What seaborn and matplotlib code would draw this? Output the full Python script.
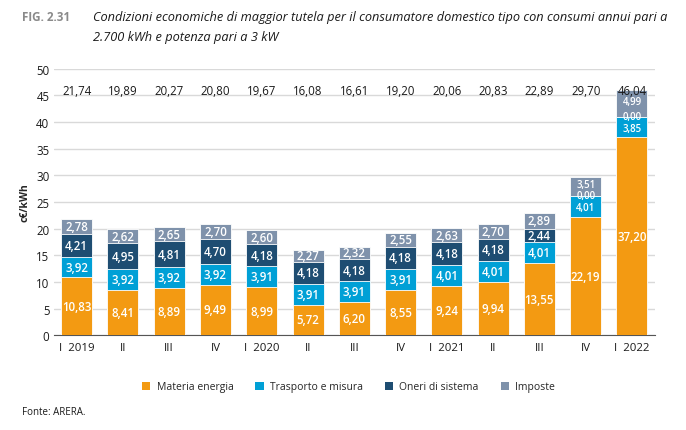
import numpy as np
import pandas as pd
import matplotlib.pyplot as plt
import seaborn as sns
from matplotlib.patches import Patch

# Data (c€/kWh)
quarters = ["I  2019", "II", "III", "IV", "I  2020", "II", "III", "IV",
            "I  2021", "II", "III", "IV", "I  2022"]
materia = [10.83, 8.41, 8.89, 9.49, 8.99, 5.72, 6.20, 8.55, 9.24, 9.94, 13.55, 22.19, 37.20]
trasporto = [3.92, 3.92, 3.92, 3.92, 3.91, 3.91, 3.91, 3.91, 4.01, 4.01, 4.01, 4.01, 3.85]
oneri = [4.21, 4.95, 4.81, 4.70, 4.18, 4.18, 4.18, 4.18, 4.18, 4.18, 2.44, 0.00, 0.00]
imposte = [2.78, 2.62, 2.65, 2.70, 2.60, 2.27, 2.32, 2.55, 2.63, 2.70, 2.89, 3.51, 4.99]
totali = [21.74, 19.89, 20.27, 20.80, 19.67, 16.08, 16.61, 19.20, 20.06, 20.83, 22.89, 29.70, 46.04]

series_names = ["Materia energia", "Trasporto e misura", "Oneri di sistema", "Imposte"]
colors = ["#F39A12", "#00A0D6", "#1E4D72", "#7F92AB"]

sns.set_style("white")
plt.rcParams["font.family"] = ["Open Sans", "DejaVu Sans"]


def fmt(v):
    return f"{v:.2f}".replace(".", ",")


df = pd.DataFrame({"pos": np.arange(len(quarters)),
                   "materia": materia, "trasporto": trasporto,
                   "oneri": oneri, "imposte": imposte})
layers = ["materia", "trasporto", "oneri", "imposte"]
cum = df[layers].cumsum(axis=1)

fig = plt.figure(figsize=(6.86, 4.31), dpi=100)
ax = fig.add_axes([0.078, 0.22, 0.877, 0.618])

# draw cumulative bars from the top layer down so they stack
for k in range(len(layers) - 1, -1, -1):
    sns.barplot(x=df["pos"], y=cum[layers[k]], color=colors[k], saturation=1,
                width=0.67, edgecolor="white", linewidth=0.6, ax=ax, zorder=3)

# segment labels (a bit smaller where a zero segment squeezes them together)
for i in range(len(quarters)):
    bottom = 0
    tight = df.loc[i, "oneri"] == 0
    for k, name in enumerate(layers):
        h = df.loc[i, name]
        y = bottom + h / 2
        fs = 8.3
        if tight and k > 0:
            fs = 7.0
            if k == 1:
                y -= 0.25
            elif k == 3:
                y += 0.25
        ax.text(i, y, fmt(h), ha="center", va="center",
                color="white", fontsize=fs, fontweight="semibold", zorder=5)
        bottom += h
    ax.text(i, 46.0, fmt(totali[i]), ha="center", va="center",
            color="#1a1a1a", fontsize=8.3, zorder=5)

ax.set_ylim(0, 50)
ax.set_xlim(-0.5, len(quarters) - 0.5)
ax.set_yticks(range(0, 51, 5))
ax.yaxis.grid(True, color="#d9d9d9", linewidth=1.0, zorder=0)
ax.set_axisbelow(True)
ax.set_xticks(range(len(quarters)))
ax.set_xticklabels(quarters, fontsize=8.2, color="#1a1a1a")
ax.set_xticks(np.arange(-0.5, len(quarters), 1), minor=True)
ax.tick_params(axis="x", which="major", length=0, pad=5)
ax.tick_params(axis="x", which="minor", length=4, color="#555555", width=0.8)
ax.tick_params(axis="y", length=0, labelsize=8.3, pad=3, labelcolor="#1a1a1a")
ax.set_xlabel("")
ax.set_ylabel("c€/kWh", fontsize=7.5, fontweight="bold", labelpad=4)

for s in ["top", "right", "left"]:
    ax.spines[s].set_visible(False)
ax.spines["bottom"].set_color("#555555")
ax.spines["bottom"].set_linewidth(0.8)

handles = [Patch(facecolor=c, edgecolor="none") for c in colors]
fig.legend(handles, series_names, loc="center", bbox_to_anchor=(0.508, 0.1),
           ncol=4, frameon=False, fontsize=7.5, handlelength=0.8,
           handleheight=0.8, columnspacing=2.1, handletextpad=0.6)

fig.text(0.032, 0.96, "FIG. 2.31", fontsize=8.4, fontweight="bold",
         color="#8a8a8a", va="center")
fig.text(0.136, 0.96, "Condizioni economiche di maggior tutela per il consumatore domestico tipo con consumi annui pari a",
         fontsize=9.2, style="italic", color="#1a1a1a", va="center")
fig.text(0.136, 0.914, "2.700 kWh e potenza pari a 3 kW",
         fontsize=9.2, style="italic", color="#1a1a1a", va="center")
fig.text(0.032, 0.042, "Fonte: ARERA.", fontsize=7, color="#1a1a1a", va="center")

fig.savefig("out.png", dpi=100)
